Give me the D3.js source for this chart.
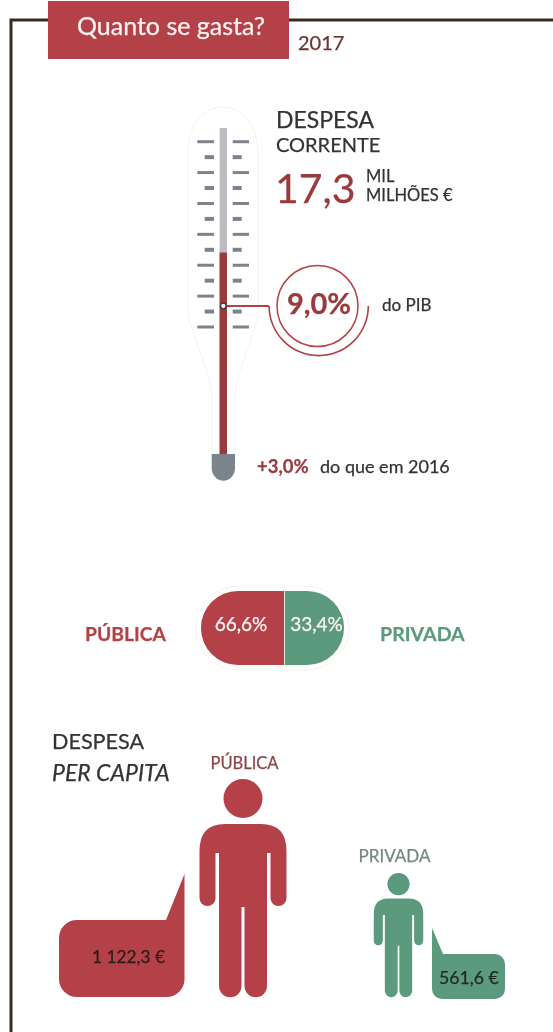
<!DOCTYPE html>
<html>
<head>
    <meta charset="UTF-8">
    <title>Quanto se gasta?</title>
</head>
<style>

    html, body {
        margin: 0;
        background: #fff;
    }

    svg {
        display: block;
        filter: blur(0.45px);
    }

    text {
        font-family: Lato, "Noto Sans", sans-serif;
        stroke-width: 0.25px;
    }

</style>
<body>
<svg width="553" height="1032"></svg>
<script src="https://d3js.org/d3.v7.min.js"></script>
<script>

    // values
    var titulo = "Quanto se gasta?";
    var ano = "2017";
    var despesaCorrente = [17.3];
    var despesaPib = [9.0];
    var variacao = "+3,0%";
    var marcas = [0, 1, 2, 3, 4, 5, 6, 7, 8, 9, 10, 11, 12];
    var setores = ["PÚBLICA", "PRIVADA"];
    var quotas = [66.6, 33.4];
    var quotasTexto = ["66,6%", "33,4%"];
    var perCapita = [1122.3, 561.6];
    var perCapitaTexto = ["1 122,3 €", "561,6 €"];

    var vermelho = "#b44147",
        vermelhoEscuro = "#9b3a3d",
        verde = "#5c9a7d",
        cinza = "#7c848b",
        texto = "#333330";

    var svg = d3.select("svg");

    function label(x, y, str, size, color, opts) {
        opts = opts || {};
        return svg.append("text")
            .attr("x", x)
            .attr("y", y)
            .attr("font-size", size)
            .attr("fill", color)
            .attr("stroke", color)
            .attr("font-weight", opts.weight || 400)
            .attr("font-style", opts.style || "normal")
            .attr("text-anchor", opts.anchor || "start")
            .text(str);
    }

    // frame and header
    svg.append("path")
        .attr("d", "M11,1032V20H553")
        .attr("fill", "none")
        .attr("stroke", "#3a2a1c")
        .attr("stroke-width", 3);

    svg.append("rect")
        .attr("x", 48)
        .attr("y", 1)
        .attr("width", 241)
        .attr("height", 58)
        .attr("fill", vermelho);

    label(171, 35, titulo, 25, "#fbf3f3", {anchor: "middle"});
    label(298, 50, ano, 20, "#6e3436");

    // thermometer
    var despesaY = d3.scaleLinear().domain([0, 28]).range([454, 128]);
    var pibY = d3.scaleLinear().domain([0, 9]).range([454, 306]);
    var marcaY = d3.scaleLinear().domain([0, 12]).range([141.7, 327]);
    var tuboX = 223.3;

    svg.append("path")
        .attr("d", "M188,155C188,122 205,107 223,107C241,107 258,122 258,155V310C258,330 235,370 235,400V454H212V400C212,370 188,330 188,310Z")
        .attr("fill", "none")
        .attr("stroke", "#f4f3ee")
        .attr("stroke-width", 1);

    svg.append("rect")
        .attr("x", tuboX - 3.7)
        .attr("y", despesaY.range()[1])
        .attr("width", 7.4)
        .attr("height", despesaY.range()[0] - despesaY.range()[1])
        .attr("fill", "#bcbcc1");

    svg.append("rect")
        .attr("x", tuboX - 3.7)
        .attr("y", despesaY(despesaCorrente[0]))
        .attr("width", 7.4)
        .attr("height", despesaY(0) - despesaY(despesaCorrente[0]))
        .attr("fill", vermelhoEscuro);

    svg.append("g")
        .selectAll("line")
        .data(marcas)
        .enter().append("line")
        .attr("x1", function(d) { return d % 2 ? 204.7 : 197.3; })
        .attr("x2", 214)
        .attr("y1", function(d) { return marcaY(d); })
        .attr("y2", function(d) { return marcaY(d); })
        .attr("stroke", cinza)
        .attr("stroke-width", function(d) { return d % 2 ? 4 : 3; });

    svg.append("g")
        .selectAll("line")
        .data(marcas)
        .enter().append("line")
        .attr("x1", 232.7)
        .attr("x2", function(d) { return d % 2 ? 241.7 : 249; })
        .attr("y1", function(d) { return marcaY(d); })
        .attr("y2", function(d) { return marcaY(d); })
        .attr("stroke", cinza)
        .attr("stroke-width", function(d) { return d % 2 ? 4 : 3; });

    // bulb
    svg.append("path")
        .attr("d", "M211.7,454H235V468A11.65,12.7 0 0 1 211.7,468Z")
        .attr("fill", cinza);

    // 9,0% callout
    var yPib = pibY(despesaPib[0]);
    var arco = d3.arc();

    svg.append("line")
        .attr("x1", tuboX)
        .attr("x2", 269)
        .attr("y1", yPib)
        .attr("y2", yPib)
        .attr("stroke", vermelho)
        .attr("stroke-width", 1.8);

    svg.append("circle")
        .attr("cx", tuboX)
        .attr("cy", yPib)
        .attr("r", 2.8)
        .attr("fill", "#f4f4f4")
        .attr("stroke", "#3d3a3a")
        .attr("stroke-width", 1.3);

    svg.append("circle")
        .attr("cx", 317.5)
        .attr("cy", yPib)
        .attr("r", 40.5)
        .attr("fill", "none")
        .attr("stroke", vermelho)
        .attr("stroke-width", 1.5);

    svg.append("path")
        .attr("transform", "translate(318.7," + yPib + ")")
        .attr("d", arco({innerRadius: 48.8, outerRadius: 50.4, startAngle: Math.PI / 2, endAngle: Math.PI * 1.5}))
        .attr("fill", vermelho);

    label(319, 314, "9,0%", 29, vermelhoEscuro, {anchor: "middle", weight: 700});
    label(382, 311, "do PIB", 17, texto);

    label(276, 128, "DESPESA", 23, texto);
    label(276, 152, "CORRENTE", 20, texto);
    label(275, 203, "17,3", 41, vermelhoEscuro);
    label(366, 182, "MIL", 16.5, texto);
    label(366, 201, "MILHÕES €", 16.5, texto);

    label(257, 473, variacao, 18.5, vermelhoEscuro, {weight: 700});
    label(320, 473, "do que em 2016", 18, texto);

    // public / private pill
    var pilulaX = d3.scaleLinear().domain([0, quotas[0], 100]).range([201, 284, 344]);
    var pilulaTopo = 591, pilulaBase = 665, raio = (pilulaBase - pilulaTopo) / 2;

    var esquerda = d3.path();
    esquerda.moveTo(pilulaX(quotas[0]), pilulaTopo);
    esquerda.lineTo(pilulaX(0) + raio, pilulaTopo);
    esquerda.arc(pilulaX(0) + raio, pilulaTopo + raio, raio, -Math.PI / 2, Math.PI / 2, true);
    esquerda.lineTo(pilulaX(quotas[0]), pilulaBase);
    esquerda.closePath();

    var direita = d3.path();
    direita.moveTo(pilulaX(quotas[0]) + 0.8, pilulaTopo);
    direita.lineTo(pilulaX(100) - raio, pilulaTopo);
    direita.arc(pilulaX(100) - raio, pilulaTopo + raio, raio, -Math.PI / 2, Math.PI / 2, false);
    direita.lineTo(pilulaX(quotas[0]) + 0.8, pilulaBase);
    direita.closePath();

    svg.append("rect")
        .attr("x", pilulaX(0) - 5)
        .attr("y", pilulaTopo - 5)
        .attr("width", pilulaX(100) - pilulaX(0) + 10)
        .attr("height", pilulaBase - pilulaTopo + 10)
        .attr("rx", raio + 5)
        .attr("fill", "none")
        .attr("stroke", "#f4f3ee");

    svg.append("path").attr("d", esquerda.toString()).attr("fill", vermelho);
    svg.append("path").attr("d", direita.toString()).attr("fill", verde);

    label(241, 631, quotasTexto[0], 19, "#fbf3f3", {anchor: "middle"});
    label(316.5, 631, quotasTexto[1], 19, "#fbf3f3", {anchor: "middle"});

    label(85, 641, setores[0], 19.3, vermelho, {weight: 700});
    label(380, 641, setores[1], 19.6, verde, {weight: 700});

    // per capita people
    label(52, 749, "DESPESA", 21.6, texto);
    label(52, 781, "PER CAPITA", 23, texto, {style: "italic"});

    var alturaPessoa = d3.scaleLinear().domain([561.6, 1122.3]).range([124, 218]);
    var pessoaX = d3.scaleOrdinal().domain(setores).range([243, 398.5]);
    var cores = d3.scaleOrdinal().domain(setores).range([vermelho, verde]);
    var chao = 997;

    // icon drawn at 218px tall, head top centre at 0,0
    var corpo = "M-18,45H18Q43.5,45 43.5,72V119A8,8 0 0 1 27.5,119V74H24V207A11.2,11.2 0 0 1 1.5,207V128H-1.5V207A11.2,11.2 0 0 1 -24,207V74H-27.5V119A8,8 0 0 1 -43.5,119V72Q-43.5,45 -18,45Z";

    var pessoa = svg.append("g")
        .selectAll("g")
        .data(setores)
        .enter().append("g")
        .attr("transform", function(d, i) {
            var k = alturaPessoa(perCapita[i]) / 218;
            return "translate(" + pessoaX(d) + "," + (chao - alturaPessoa(perCapita[i])) + ") scale(" + k + ")";
        })
        .attr("fill", function(d) { return cores(d); });

    pessoa.append("circle")
        .attr("cy", 19.5)
        .attr("r", 19.5);

    pessoa.append("path")
        .attr("d", corpo);

    label(244.5, 769, setores[0], 16.5, "#8a4549", {anchor: "middle"});
    label(394.5, 862, setores[1], 17, "#6f8a7d", {anchor: "middle"});

    // speech bubbles
    function balao(x0, y0, x1, y1, r, desenhaCauda) {
        var p = d3.path();
        p.moveTo(x0 + r, y0);
        desenhaCauda(p);
        p.arcTo(x1, y1, x1 - r, y1, r);
        p.arcTo(x0, y1, x0, y1 - r, r);
        p.arcTo(x0, y0, x0 + r, y0, r);
        p.closePath();
        return p.toString();
    }

    svg.append("path")
        .attr("d", balao(59, 920, 184.5, 997, 18, function(p) {
            p.lineTo(166, 920);
            p.lineTo(184.5, 874);
            p.lineTo(184.5, 979);
        }))
        .attr("fill", vermelho);

    var p2 = d3.path();
    p2.moveTo(432, 928);
    p2.lineTo(443, 954);
    p2.lineTo(495, 954);
    p2.arcTo(505, 954, 505, 964, 10);
    p2.lineTo(505, 989);
    p2.arcTo(505, 999, 495, 999, 10);
    p2.lineTo(442, 999);
    p2.arcTo(432, 999, 432, 989, 10);
    p2.closePath();

    svg.append("path")
        .attr("d", p2.toString())
        .attr("fill", verde);

    label(92, 963, perCapitaTexto[0], 17.3, "#2c1c1c");
    label(439, 984, perCapitaTexto[1], 17.7, "#1f2a25");

</script>
</body>
</html>
